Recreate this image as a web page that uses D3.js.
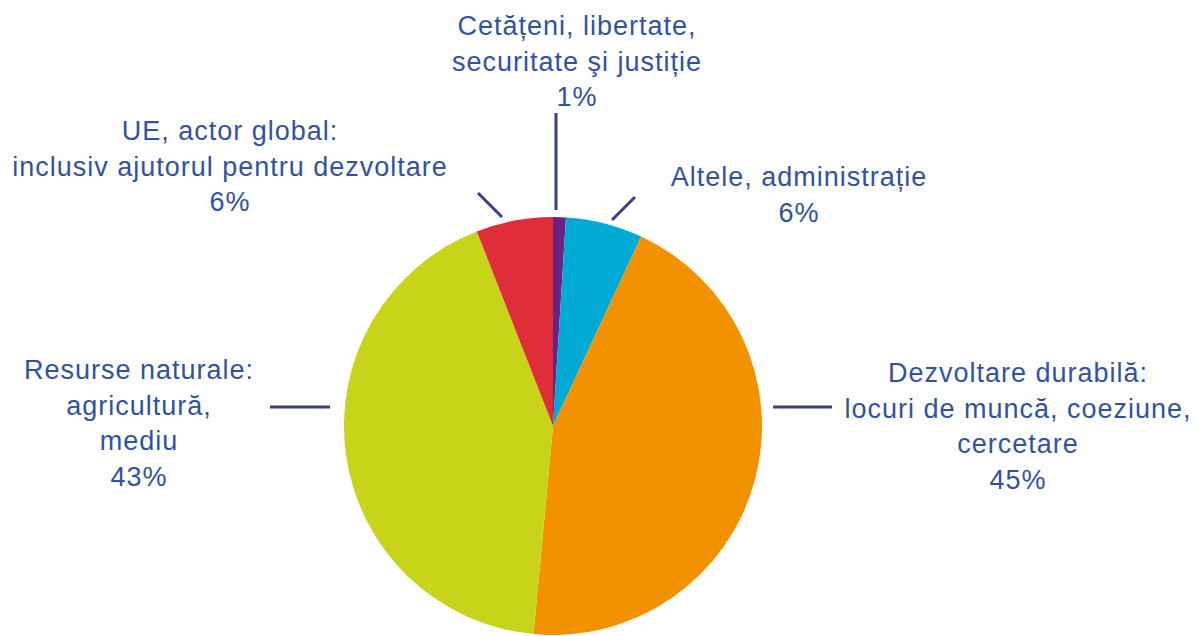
<!DOCTYPE html>
<html>
<head>
<meta charset="utf-8">
<script src="https://cdn.jsdelivr.net/npm/d3@7"></script>
<style>
    body { margin: 0; background: #fff; }
    svg { display: block; }
    .label { font-family: Arial, "Liberation Sans", Helvetica, sans-serif; font-size: 27px; letter-spacing: 1px; }
</style>
</head>
<body>
<div id="chart"></div>
<script>

// slices, clockwise from 12 o'clock
const categories = [
    "Cetățeni, libertate, securitate şi justiție",
    "Altele, administrație",
    "Dezvoltare durabilă",
    "Resurse naturale",
    "UE, actor global"
];
const values = [1, 6, 45, 43, 6];
const colors = ["#6b2281", "#00aad5", "#f39200", "#c8d419", "#df2e3a"];

// label text, one array per slice
const labelLines = [
    ["Cetățeni, libertate,", "securitate şi justiție", "1%"],
    ["Altele, administrație", "6%"],
    ["Dezvoltare durabilă:", "locuri de muncă, coeziune,", "cercetare", "45%"],
    ["Resurse naturale:", "agricultură,", "mediu", "43%"],
    ["UE, actor global:", "inclusiv ajutorul pentru dezvoltare", "6%"]
];

const width = 1196, height = 636;
const cx = 553, cy = 426, radius = 209;

// where each label sits (relative to pie centre) and its leader line
const layout = [
    {x: 24,   y: -391, line: [[3, -313], [3, -216]]},
    {x: 246,  y: -240, line: [[59, -206], [82, -229]]},
    {x: 465,  y: -44,  line: [[220, -19], [279, -19]]},
    {x: -414, y: -47,  line: [[-283, -19], [-223, -19]]},
    {x: -323, y: -286, line: [[-75, -233], [-51, -209]]}
];

const textColor = "#3252a1";
const lineColor = "#3a3c8c";
const lineHeight = 35.5;

const svg = d3.select("#chart").append("svg")
    .attr("width", width)
    .attr("height", height);

const pie = d3.pie().sort(null).value(d => d);
const arcs = pie(values);

const arc = d3.arc()
    .innerRadius(0)
    .outerRadius(radius);

const g = svg.append("g")
    .attr("transform", `translate(${cx}, ${cy})`);

// slices
g.selectAll("path.slice")
    .data(arcs)
    .join("path")
    .attr("class", "slice")
    .attr("d", arc)
    .attr("fill", (d, i) => colors[i]);

// leader lines
g.selectAll("line.leader")
    .data(layout)
    .join("line")
    .attr("class", "leader")
    .attr("x1", d => d.line[0][0])
    .attr("y1", d => d.line[0][1])
    .attr("x2", d => d.line[1][0])
    .attr("y2", d => d.line[1][1])
    .attr("stroke", lineColor)
    .attr("stroke-width", 3);

// labels
const labels = g.selectAll("text.label")
    .data(labelLines)
    .join("text")
    .attr("class", "label")
    .attr("text-anchor", "middle")
    .attr("fill", textColor);

labels.each(function (lines, i) {
    d3.select(this).selectAll("tspan")
        .data(lines)
        .join("tspan")
        .attr("x", layout[i].x)
        .attr("y", (l, j) => layout[i].y + j * lineHeight)
        .text(l => l);
});

</script>
</body>
</html>
